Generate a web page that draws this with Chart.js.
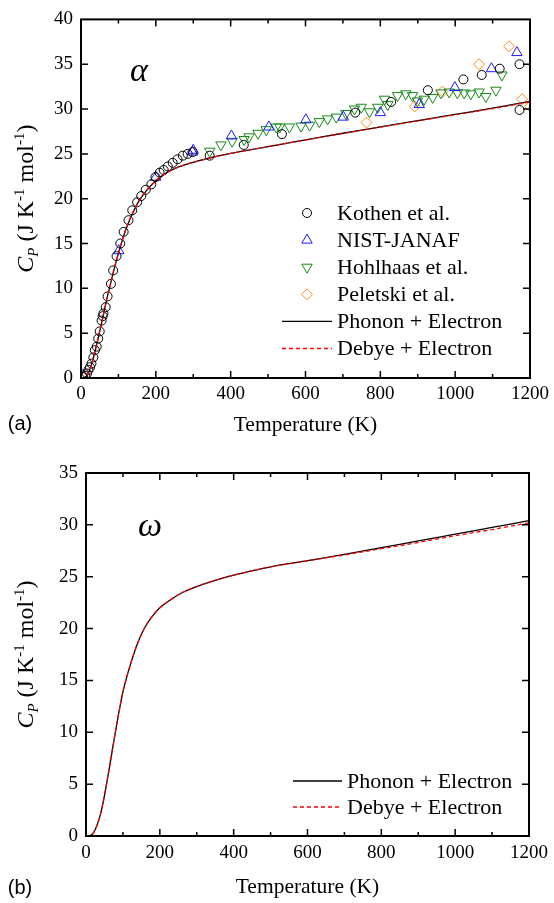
<!DOCTYPE html>
<html>
<head>
<meta charset="utf-8">
<title>Cp alpha / omega</title>
<script src="https://cdn.jsdelivr.net/npm/chart.js@4/dist/chart.umd.min.js"></script>
<style>
  html, body { margin: 0; padding: 0; background: #fff; overflow: hidden; }
  #wrapA { position: absolute; left: 0; top: 0; width: 554px; height: 440px; }
  #wrapB { position: absolute; left: 0; top: 440px; width: 554px; height: 463px; }
</style>
</head>
<body>
<div id="wrapA"><canvas id="chartA" width="554" height="440"></canvas></div>
<div id="wrapB"><canvas id="chartB" width="554" height="463"></canvas></div>
<script>
// ---- (a) alpha phase, measured data ----
var kothenT = [6, 11, 16, 20, 24, 28, 33, 37, 42, 46, 50, 55, 58, 60, 66, 71, 80, 86, 95, 105, 114, 127, 137, 150, 161, 173, 188, 199, 210, 221, 232, 245, 258, 272, 285, 298, 344, 435, 537, 733, 829, 927, 1022, 1071, 1119, 1172, 1172];
var kothenCp = [0.1, 0.25, 0.5, 0.9, 1.2, 1.6, 2.3, 3.1, 3.5, 4.4, 5.2, 6.4, 6.9, 7.2, 7.9, 9.1, 10.5, 12.0, 13.6, 15.0, 16.3, 17.6, 18.7, 19.6, 20.3, 21.0, 21.6, 22.4, 22.9, 23.2, 23.6, 24.0, 24.4, 24.8, 25.0, 25.2, 24.8, 26.0, 27.2, 29.6, 30.8, 32.1, 33.3, 33.8, 34.5, 35.0, 29.9];

var nistT = [5, 101, 200, 298, 300, 402, 502, 601, 701, 800, 904, 999, 1097, 1165];
var nistCp = [0.3, 14.2, 22.4, 25.2, 25.4, 27.0, 28.0, 28.8, 29.1, 29.6, 30.5, 32.4, 34.5, 36.3];

var hohlT = [344, 374, 404, 436, 449, 473, 495, 522, 531, 557, 588, 611, 637, 659, 682, 708, 731, 749, 771, 793, 811, 820, 846, 868, 886, 899, 917, 940, 962, 984, 1006, 1024, 1042, 1064, 1082, 1109, 1125];
var hohlCp = [25.3, 26.0, 26.4, 26.6, 26.9, 27.3, 27.7, 28.0, 28.0, 28.0, 28.1, 28.2, 28.6, 28.9, 29.1, 29.5, 30.0, 30.2, 29.7, 30.2, 31.1, 30.5, 31.5, 31.7, 31.5, 30.9, 31.1, 31.3, 31.8, 31.9, 31.8, 31.8, 31.7, 31.9, 31.4, 32.1, 33.8];

var peletT = [763, 892, 966, 1064, 1144, 1179, 1200];
var peletCp = [28.5, 30.3, 31.95, 35.0, 37.0, 31.1, 30.3];

// ---- (a) alpha phase, model curves ----
var alphaT = [0, 10, 20, 30, 40, 50, 60, 70, 80, 90, 100, 120, 150, 175, 200, 225, 250, 275, 300, 350, 400, 500, 600, 700, 800, 900, 1000, 1100, 1200];
var alphaPhonon = [0, 0.05, 0.6, 1.8, 3.4, 5.2, 7.1, 9.0, 10.7, 12.4, 13.9, 16.6, 19.4, 20.9, 22.0, 22.8, 23.35, 23.75, 24.05, 24.6, 25.05, 25.8, 26.55, 27.3, 28.0, 28.7, 29.4, 30.1, 30.85];
var alphaDebye = [0, 0.05, 0.6, 1.8, 3.4, 5.2, 7.1, 9.0, 10.7, 12.4, 13.9, 16.6, 19.4, 20.9, 22.0, 22.8, 23.35, 23.75, 24.05, 24.6, 25.05, 25.8, 26.55, 27.28, 27.98, 28.67, 29.36, 30.05, 30.8];

// ---- (b) omega phase, model curves ----
var omegaT = [0, 10, 20, 30, 40, 50, 60, 70, 80, 90, 100, 110, 120, 140, 160, 180, 200, 230, 260, 300, 350, 400, 500, 600, 700, 800, 900, 1000, 1100, 1200];
var omegaPhonon = [0, 0.03, 0.3, 1.05, 2.2, 3.9, 5.9, 8.0, 10.1, 12.1, 13.9, 15.3, 16.5, 18.6, 20.15, 21.2, 22.0, 22.8, 23.45, 24.05, 24.65, 25.15, 25.95, 26.55, 27.15, 27.8, 28.45, 29.1, 29.75, 30.4];
var omegaDebye = [0, 0.03, 0.3, 1.05, 2.2, 3.9, 5.9, 8.0, 10.1, 12.1, 13.9, 15.3, 16.5, 18.6, 20.15, 21.2, 22.0, 22.8, 23.45, 24.05, 24.65, 25.15, 25.95, 26.53, 27.1, 27.7, 28.3, 28.95, 29.55, 30.2];

var serif = '"Liberation Serif", "DejaVu Serif", serif';
var sans = '"Liberation Sans", "DejaVu Sans", sans-serif';

function pts(xs, ys) {
  return xs.map(function (t, i) { return { x: t, y: ys[i] }; });
}

function markerSet(label, xs, ys, color, style, radius, rotation) {
  return {
    label: label,
    data: pts(xs, ys),
    showLine: false,
    pointStyle: style,
    pointRadius: radius,
    pointHoverRadius: radius,
    pointRotation: rotation || 0,
    pointBorderWidth: 1,
    borderColor: color,
    backgroundColor: "rgba(0,0,0,0)",
    clip: 0,
    order: 2
  };
}

function curveSet(label, xs, ys, color, dash) {
  return {
    label: label,
    data: pts(xs, ys),
    showLine: true,
    pointRadius: 0,
    pointHoverRadius: 0,
    borderColor: color,
    backgroundColor: color,
    borderWidth: 1.3,
    borderDash: dash,
    cubicInterpolationMode: "monotone",
    clip: 0,
    order: dash.length ? 0 : 1
  };
}

// inward ticks + closed frame
var framePlugin = {
  id: "frame",
  afterDatasetsDraw: function (chart) {
    var ctx = chart.ctx, a = chart.chartArea;
    var x = chart.scales.x, y = chart.scales.y;
    ctx.save();
    ctx.strokeStyle = "#000";
    ctx.lineWidth = 1.5;
    ctx.beginPath();
    for (var t = 100; t < x.max; t += 100) {
      var px = x.getPixelForValue(t);
      var len = t % 200 === 0 ? 7 : 4;
      ctx.moveTo(px, a.bottom); ctx.lineTo(px, a.bottom - len);
      ctx.moveTo(px, a.top); ctx.lineTo(px, a.top + len);
    }
    for (var v = 5; v < y.max; v += 5) {
      var py = y.getPixelForValue(v);
      ctx.moveTo(a.left, py); ctx.lineTo(a.left + 7, py);
      ctx.moveTo(a.right, py); ctx.lineTo(a.right - 7, py);
    }
    ctx.stroke();
    ctx.lineWidth = 2;
    ctx.strokeRect(a.left, a.top, a.right - a.left, a.bottom - a.top);
    ctx.restore();
  }
};

// y axis title with italic C, subscript P and -1 superscripts
function drawYTitle(ctx, cx, cy) {
  var parts = [
    { t: "C", f: "italic 24px " + serif, dy: 0 },
    { t: "P", f: "italic 15px " + serif, dy: 5 },
    { t: " (J K", f: "24px " + serif, dy: 0 },
    { t: "-1", f: "15px " + serif, dy: -9 },
    { t: " mol", f: "24px " + serif, dy: 0 },
    { t: "-1", f: "15px " + serif, dy: -9 },
    { t: ")", f: "24px " + serif, dy: 0 }
  ];
  ctx.save();
  var total = 0;
  parts.forEach(function (p) { ctx.font = p.f; p.w = ctx.measureText(p.t).width; total += p.w; });
  ctx.translate(cx, cy);
  ctx.rotate(-Math.PI / 2);
  ctx.fillStyle = "#000";
  ctx.textBaseline = "alphabetic";
  ctx.textAlign = "left";
  var px = -total / 2;
  parts.forEach(function (p) { ctx.font = p.f; ctx.fillText(p.t, px, p.dy); px += p.w; });
  ctx.restore();
}

// labels, greek phase symbol and inset legend
function decorPlugin(opt) {
  return {
    id: "decor",
    afterDraw: function (chart) {
      var ctx = chart.ctx, a = chart.chartArea;
      drawYTitle(ctx, opt.yTitleX, (a.top + a.bottom) / 2);
      ctx.save();
      ctx.fillStyle = "#000";
      ctx.textAlign = "center";
      ctx.textBaseline = "alphabetic";
      ctx.font = "italic 34px " + serif;
      ctx.fillText(opt.phase, opt.phaseX, opt.phaseY);
      ctx.font = "20px " + sans;
      ctx.fillText(opt.panel, 20, opt.panelY);

      ctx.font = "22px " + serif;
      ctx.textAlign = "left";
      ctx.textBaseline = "middle";
      var row = opt.legendY;
      chart.data.datasets.forEach(function (ds) {
        if (ds.showLine) {
          ctx.save();
          ctx.strokeStyle = ds.borderColor;
          ctx.lineWidth = 1.3;
          ctx.setLineDash(ds.borderDash);
          ctx.beginPath();
          ctx.moveTo(opt.lineX0, row);
          ctx.lineTo(opt.lineX1, row);
          ctx.stroke();
          ctx.restore();
        } else {
          ctx.save();
          ctx.strokeStyle = ds.borderColor;
          ctx.fillStyle = "rgba(0,0,0,0)";
          ctx.lineWidth = 1;
          Chart.helpers.drawPoint(ctx, {
            pointStyle: ds.pointStyle, rotation: ds.pointRotation,
            radius: ds.pointRadius, borderWidth: 1
          }, (opt.lineX0 + opt.lineX1) / 2, row);
          ctx.restore();
        }
        ctx.fillText(ds.label, opt.textX, row + 1);
        row += opt.rowH;
      });
      ctx.restore();
    }
  };
}

function plainTick(v) { return String(v); }

function makeConfig(datasets, yMax, yWidth, xHeight, padTop, tickPad, titlePad, decor) {
  return {
    type: "scatter",
    data: { datasets: datasets },
    options: {
      responsive: false,
      animation: false,
      events: [],
      layout: { padding: { top: padTop, right: 21, left: 0, bottom: 0 } },
      plugins: { legend: { display: false }, tooltip: { enabled: false } },
      scales: {
        x: {
          type: "linear", min: 0, max: 1200,
          ticks: { stepSize: 200, color: "#000", padding: tickPad, maxRotation: 0,
                   callback: plainTick,
                   font: { family: serif, size: 19, lineHeight: 1.2 } },
          grid: { display: false, drawTicks: false },
          border: { display: false },
          title: { display: true, text: "Temperature (K)", color: "#000",
                   font: { family: serif, size: 21.5, lineHeight: 1.2 },
                   padding: { top: 0, bottom: titlePad } },
          afterFit: function (s) { s.height = xHeight; }
        },
        y: {
          type: "linear", min: 0, max: yMax,
          ticks: { stepSize: 5, color: "#000", padding: 8, callback: plainTick,
                   font: { family: serif, size: 19, lineHeight: 1.2 } },
          grid: { display: false, drawTicks: false },
          border: { display: false },
          afterFit: function (s) { s.width = yWidth; }
        }
      }
    },
    plugins: [framePlugin, decorPlugin(decor)]
  };
}

var setsA = [
  markerSet("Kothen et al.", kothenT, kothenCp, "#000000", "circle", 4.5, 0),
  markerSet("NIST-JANAF", nistT, nistCp, "#1a1aff", "triangle", 6, 0),
  markerSet("Hohlhaas et al.", hohlT, hohlCp, "#168a16", "triangle", 6, 180),
  markerSet("Peletski et al.", peletT, peletCp, "#ff8c1a", "rectRot", 5.5, 0),
  curveSet("Phonon + Electron", alphaT, alphaPhonon, "#000000", []),
  curveSet("Debye + Electron", alphaT, alphaDebye, "#ff0000", [4, 3])
];

var setsB = [
  curveSet("Phonon + Electron", omegaT, omegaPhonon, "#000000", []),
  curveSet("Debye + Electron", omegaT, omegaDebye, "#ff0000", [4, 3])
];

var chartA, chartB;
function buildCharts() {
  if (chartA) return;
  chartA = new Chart(document.getElementById("chartA"), makeConfig(
    setsA, 40, 81, 62, 12, 5, 2,
    { yTitleX: 33, phase: "\u03b1", phaseX: 139, phaseY: 81, panel: "(a)", panelY: 430,
      legendY: 213, rowH: 27.1, lineX0: 282, lineX1: 332, textX: 337 }
  ));
  chartB = new Chart(document.getElementById("chartB"), makeConfig(
    setsB, 35, 86, 67, 33, 6, 3,
    { yTitleX: 33, phase: "\u03c9", phaseX: 150, phaseY: 96, panel: "(b)", panelY: 454,
      legendY: 341, rowH: 26, lineX0: 293, lineX1: 342, textX: 347 }
  ));
}

// make sure the serif face is ready before the canvas text is drawn
Promise.all([
  document.fonts.load('21px "Liberation Serif"'),
  document.fonts.load('italic 21px "Liberation Serif"'),
  document.fonts.load('20px "Liberation Sans"')
]).then(buildCharts, buildCharts);
setTimeout(buildCharts, 1500);
</script>
</body>
</html>
